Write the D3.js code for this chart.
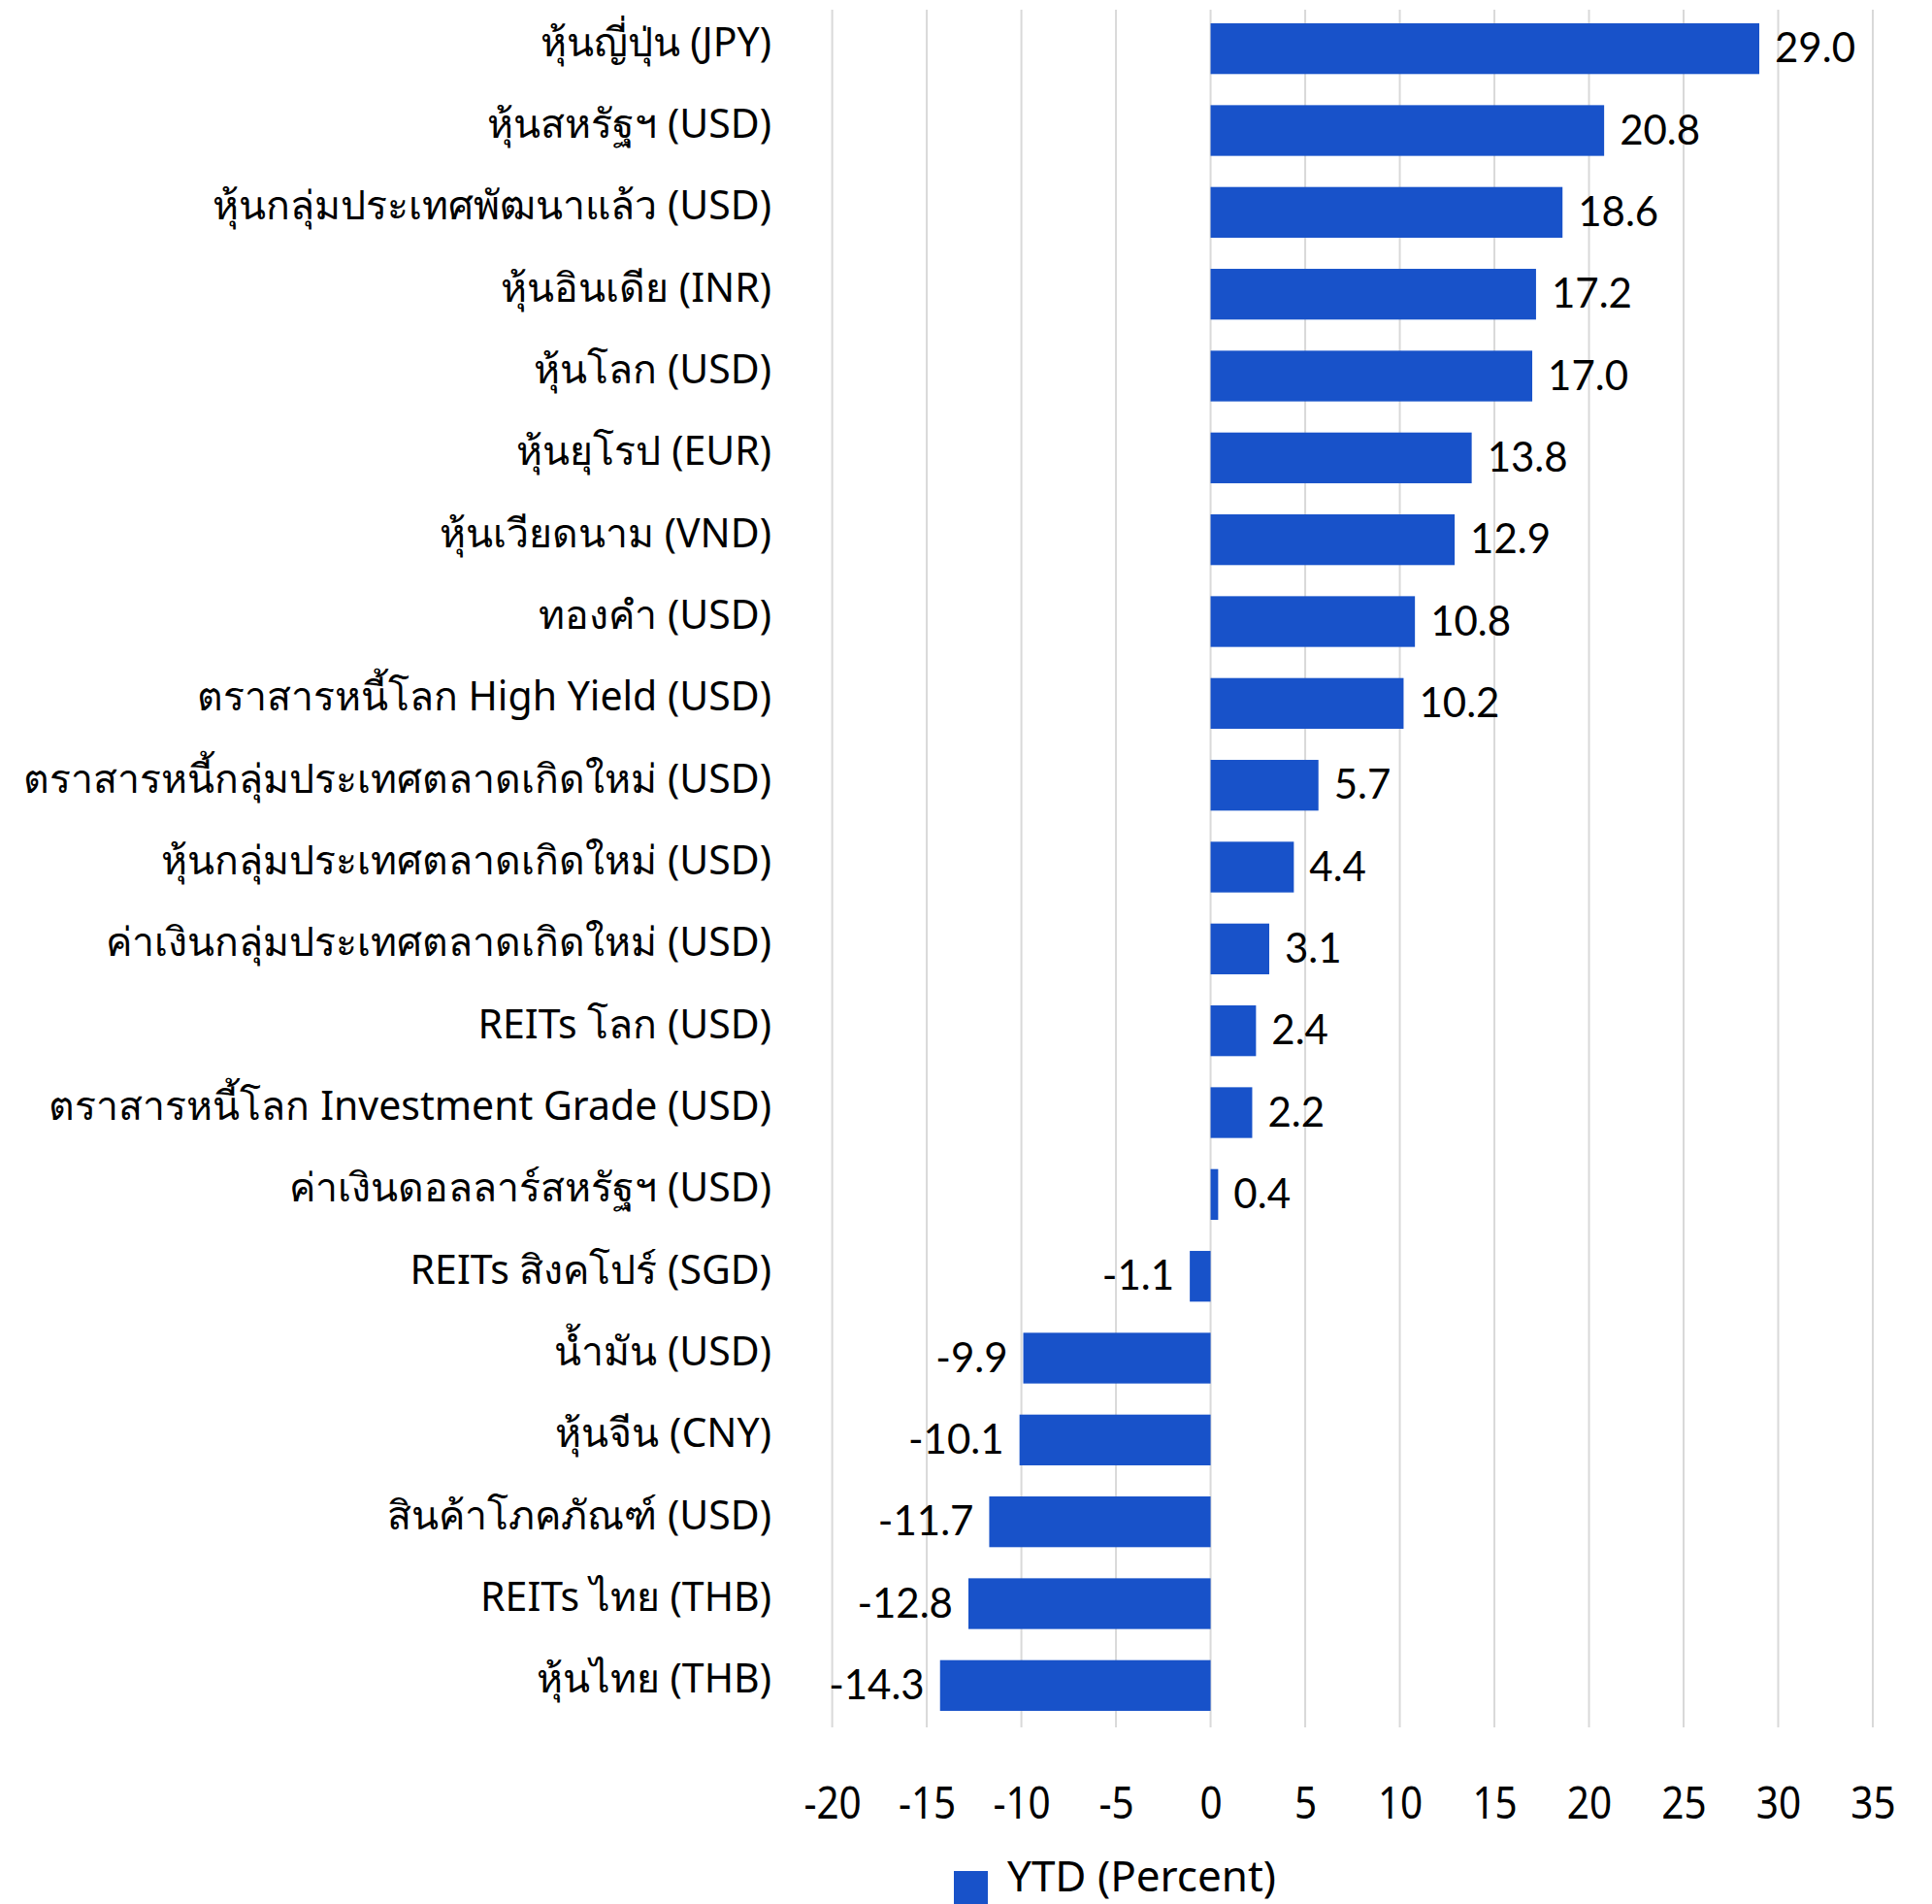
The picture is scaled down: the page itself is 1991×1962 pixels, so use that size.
<!DOCTYPE html>
<html>
<head>
<meta charset="utf-8">
<script src="https://cdn.jsdelivr.net/npm/d3@7"></script>
<style>
  body { margin: 0; background: #fff; }
  svg { display: block; }
</style>
</head>
<body>
<div id="chart"></div>
<script>
// Data
const categories = [
    "หุ้นญี่ปุ่น (JPY)",
    "หุ้นสหรัฐฯ (USD)",
    "หุ้นกลุ่มประเทศพัฒนาแล้ว (USD)",
    "หุ้นอินเดีย (INR)",
    "หุ้นโลก (USD)",
    "หุ้นยุโรป (EUR)",
    "หุ้นเวียดนาม (VND)",
    "ทองคำ (USD)",
    "ตราสารหนี้โลก High Yield (USD)",
    "ตราสารหนี้กลุ่มประเทศตลาดเกิดใหม่ (USD)",
    "หุ้นกลุ่มประเทศตลาดเกิดใหม่ (USD)",
    "ค่าเงินกลุ่มประเทศตลาดเกิดใหม่ (USD)",
    "REITs โลก (USD)",
    "ตราสารหนี้โลก Investment Grade (USD)",
    "ค่าเงินดอลลาร์สหรัฐฯ (USD)",
    "REITs สิงคโปร์ (SGD)",
    "น้ำมัน (USD)",
    "หุ้นจีน (CNY)",
    "สินค้าโภคภัณฑ์ (USD)",
    "REITs ไทย (THB)",
    "หุ้นไทย (THB)"
];
const ytdValues = [29.0, 20.8, 18.6, 17.2, 17.0, 13.8, 12.9, 10.8, 10.2, 5.7, 4.4, 3.1, 2.4, 2.2, 0.4, -1.1, -9.9, -10.1, -11.7, -12.8, -14.3];
const xTicks = [-20, -15, -10, -5, 0, 5, 10, 15, 20, 25, 30, 35];
const seriesName = "YTD (Percent)";

const width = 1991;
const height = 1962;
const barColor = "#1852c9";
const gridColor = "#d9d9d9";
const labelFont = "'Noto Sans', sans-serif";
const valueFont = "Lato, 'Noto Sans', sans-serif";

const data = categories.map((c, i) => ({ name: c, value: ytdValues[i] }));

// plain hyphen for negatives, like the original
const fmtValue = d => d.toFixed(1);
const fmtTick = d => String(d);

const svg = d3.select("#chart")
    .append("svg")
    .attr("width", width)
    .attr("height", height);

const xScale = d3.scaleLinear()
    .domain([-20, 35])
    .range([857.6, 1930]);

const yScale = d3.scaleBand()
    .domain(categories)
    .range([8, 1779])
    .paddingInner(0.38)
    .paddingOuter(0.19);

// grid
svg.append("g")
    .attr("class", "grid")
    .selectAll("line")
    .data(xTicks)
    .join("line")
    .attr("x1", d => xScale(d))
    .attr("x2", d => xScale(d))
    .attr("y1", 10)
    .attr("y2", 1780)
    .style("stroke", gridColor)
    .style("stroke-width", 2);

// bars
svg.append("g")
    .selectAll("rect")
    .data(data)
    .join("rect")
    .attr("x", d => xScale(Math.min(0, d.value)))
    .attr("width", d => Math.abs(xScale(d.value) - xScale(0)))
    .attr("y", d => yScale(d.name))
    .attr("height", yScale.bandwidth())
    .style("fill", barColor);

// category labels
svg.append("g")
    .selectAll("text")
    .data(data)
    .join("text")
    .attr("x", 795)
    .attr("y", d => yScale(d.name) + yScale.bandwidth() / 2 - 7)
    .attr("dy", "0.35em")
    .attr("text-anchor", "end")
    .style("font-family", labelFont)
    .style("font-size", "41px")
    .style("fill", "#000")
    .text(d => d.name);

// value labels
svg.append("g")
    .selectAll("text")
    .data(data)
    .join("text")
    .attr("x", d => d.value >= 0 ? xScale(d.value) + 16 : xScale(d.value) - 16)
    .attr("y", d => yScale(d.name) + yScale.bandwidth() / 2 - 1)
    .attr("dy", "0.36em")
    .attr("text-anchor", d => d.value >= 0 ? "start" : "end")
    .style("font-family", valueFont)
    .style("font-size", "42px")
    .style("fill", "#000")
    .text(d => fmtValue(d.value));

// x axis
const xAxis = d3.axisBottom(xScale)
    .tickValues(xTicks)
    .tickSize(0)
    .tickPadding(0)
    .tickFormat(fmtTick);

const axisG = svg.append("g")
    .attr("class", "x-axis")
    .attr("transform", "translate(0,1858)")
    .call(xAxis);

axisG.select(".domain").remove();
axisG.selectAll(".tick text")
    .attr("dy", "0.35em")
    .attr("transform", "scale(0.88,1)")
    .attr("x", 0)
    .style("font-family", labelFont)
    .style("font-size", "46px")
    .style("fill", "#000");

// legend
const legend = svg.append("g")
    .attr("class", "legend");

legend.append("rect")
    .attr("x", 983)
    .attr("y", 1928)
    .attr("width", 35)
    .attr("height", 34)
    .style("fill", barColor);

legend.append("text")
    .attr("x", 1038)
    .attr("y", 1934)
    .attr("dy", "0.35em")
    .style("font-family", labelFont)
    .style("font-size", "44px")
    .style("fill", "#000")
    .text(seriesName);
</script>
</body>
</html>
